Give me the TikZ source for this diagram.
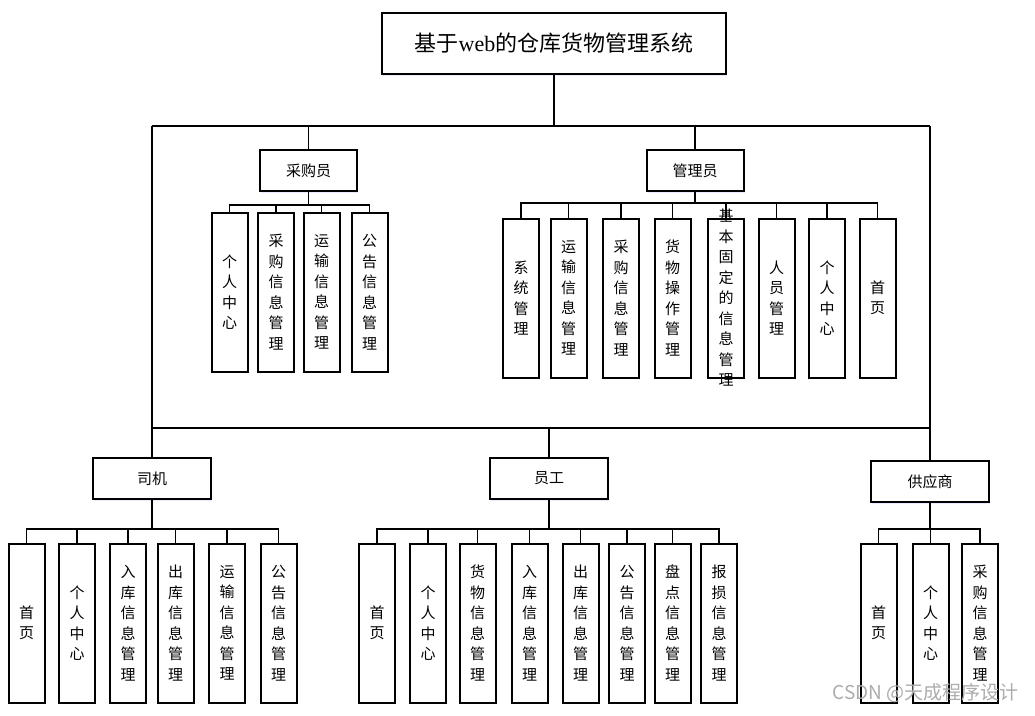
\documentclass[tikz,border=0pt]{standalone}
\usepackage{fontspec}
\setmainfont{Liberation Serif}
\newfontfamily\cjk{Noto Sans CJK SC}
\usetikzlibrary{shadows}
\begin{document}
\begin{tikzpicture}[x=1pt,y=-1pt,
  box/.style={draw, line width=2pt, fill=white, inner sep=0pt,
    drop shadow={shadow xshift=1.2pt,shadow yshift=-1.5pt,fill=blue!25,opacity=0.35}},
  role/.style={box, minimum width=97pt, minimum height=41pt, font=\cjk\fontsize{15}{18}\selectfont},
  wrole/.style={role, minimum width=118pt},
  leaf/.style={box, minimum width=36pt, minimum height=159pt, align=center, font=\cjk\fontsize{15}{20.5}\selectfont},
  leaftext/.style={inner sep=0pt, align=center, font=\cjk\fontsize{15}{20.5}\selectfont},
  conn/.style={line width=1.4pt}]
\useasboundingbox (0,0) rectangle (1035,715);

% title
\node[box, minimum width=344pt, minimum height=61pt, font=\fontsize{22}{26}\selectfont] (title) at (554,43.5)
  {{\cjk 基于}web{\cjk 的仓库货物管理系统}};

% roles
\node[role] (cg) at (308.5,170.5) {采购员};
\node[role] (gl) at (695,170.5) {管理员};
\node[wrole] (sj) at (152,478.5) {司机};
\node[wrole] (yg) at (549,478.5) {员工};
\node[wrole] (gys) at (930,481.5) {供应商};

% buses between title and roles
\draw[conn] (title.south) -- ++(0,51) coordinate (tb);
\draw[conn] (tb -| sj.north) -- (tb -| gys.north);
\draw[conn] (cg.north) -- (cg.north |- tb);
\draw[conn] (gl.north) -- (gl.north |- tb);
\draw[conn] (sj.north) -- (sj.north |- tb);
\draw[conn] (gys.north) -- (gys.north |- tb);
\draw[conn] (yg.north) -- ++(0,-29) coordinate (lb);
\draw[conn] (lb -| sj.north) -- (lb -| gys.north);

% 采购员 children
\node[leaf] (c1) at (229.5,292) {个\\人\\中\\心};
\node[leaf] (c2) at (276,292) {采\\购\\信\\息\\管\\理};
\node[leaf] (c3) at (321.5,292) {运\\输\\信\\息\\管\\理};
\node[leaf] (c4) at (369.5,292) {公\\告\\信\\息\\管\\理};
\foreach \c in {c1,c2,c3,c4} \draw[conn] (cg.south) -- ++(0,13) -| (\c.north);

% 管理员 children
\node[leaf] (m1) at (521,298) {系\\统\\管\\理};
\node[leaf] (m2) at (568.5,298) {运\\输\\信\\息\\管\\理};
\node[leaf] (m3) at (621,298) {采\\购\\信\\息\\管\\理};
\node[leaf] (m4) at (672.5,298) {货\\物\\操\\作\\管\\理};
\node[leaf] (m5) at (726,298) {};
\node[leaf] (m6) at (776.5,298) {人\\员\\管\\理};
\node[leaf] (m7) at (827,298) {个\\人\\中\\心};
\node[leaf] (m8) at (877.5,298) {首\\页};
\foreach \c in {m1,m2,m3,m4,m5,m6,m7,m8} \draw[conn] (gl.south) -- ++(0,11) -| (\c.north);
\node[leaftext] (m5t) at (m5.center) {基\\本\\固\\定\\的\\信\\息\\管\\理};

% 司机 children
\node[leaf] (s1) at (26.5,623) {首\\页};
\node[leaf] (s2) at (77,623) {个\\人\\中\\心};
\node[leaf] (s3) at (128,623) {入\\库\\信\\息\\管\\理};
\node[leaf] (s4) at (175.5,623) {出\\库\\信\\息\\管\\理};
\node[leaf] (s5) at (227,623) {运\\输\\信\\息\\管\\理};
\node[leaf] (s6) at (278.5,623) {公\\告\\信\\息\\管\\理};
\foreach \c in {s1,s2,s3,s4,s5,s6} \draw[conn] (sj.south) -- ++(0,29) -| (\c.north);

% 员工 children
\node[leaf] (y1) at (377,623) {首\\页};
\node[leaf] (y2) at (428,623) {个\\人\\中\\心};
\node[leaf] (y3) at (477.5,623) {货\\物\\信\\息\\管\\理};
\node[leaf] (y4) at (529.5,623) {入\\库\\信\\息\\管\\理};
\node[leaf] (y5) at (580.5,623) {出\\库\\信\\息\\管\\理};
\node[leaf] (y6) at (627,623) {公\\告\\信\\息\\管\\理};
\node[leaf] (y7) at (672.5,623) {盘\\点\\信\\息\\管\\理};
\node[leaf] (y8) at (719,623) {报\\损\\信\\息\\管\\理};
\foreach \c in {y1,y2,y3,y4,y5,y6,y7,y8} \draw[conn] (yg.south) -- ++(0,29) -| (\c.north);

% 供应商 children
\node[leaf] (g1) at (878.5,623) {首\\页};
\node[leaf] (g2) at (930.5,623) {个\\人\\中\\心};
\node[leaf] (g3) at (980,623) {采\\购\\信\\息\\管\\理};
\foreach \c in {g1,g2,g3} \draw[conn] (gys.south) -- ++(0,26) -| (\c.north);

% watermark
\node[anchor=east, text=gray!65, font=\cjk\fontsize{19}{19}\selectfont] (wm) at (1022,693) {CSDN @天成程序设计};
\end{tikzpicture}
\end{document}
